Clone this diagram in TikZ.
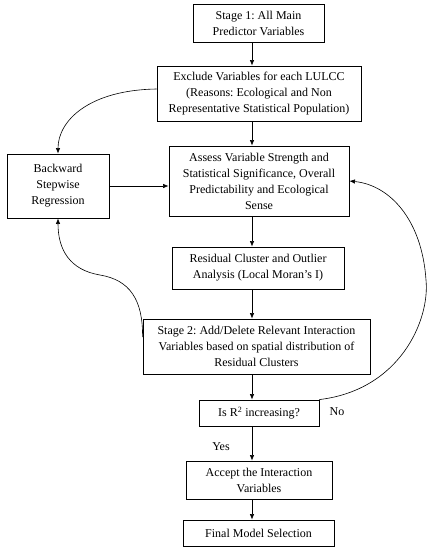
\documentclass[tikz,border=0pt]{standalone}
\usepackage{fontspec}
\setmainfont{Liberation Serif}
\usetikzlibrary{arrows.meta,calc}
\begin{document}
\frenchspacing
\begin{tikzpicture}[x=1pt,y=-1pt,
  box/.style={draw,line width=0.9pt,align=center,inner sep=0pt,font=\fontsize{12}{16}\selectfont},
  arr/.style={-{Latex[length=5.5pt,width=4.5pt]},line width=0.6pt},
  lbl/.style={font=\fontsize{12}{12}\selectfont,inner sep=0pt}]
\useasboundingbox (0,0) rectangle (430,550);
\node[box,minimum width=131pt,minimum height=38pt] (b1) at (258.5,23) {Stage 1: All Main\\Predictor Variables};
\node[box,minimum width=204pt,minimum height=55pt] (b2) at (259,93.5) {Exclude Variables for each LULCC\\(Reasons: Ecological and Non\\Representative Statistical Population)};
\node[box,minimum width=102pt,minimum height=64pt] (b3) at (58,186) {Backward\\Stepwise\\Regression};
\node[box,minimum width=180pt,minimum height=70pt] (b4) at (259,181) {Assess Variable Strength and\\Statistical Significance, Overall\\Predictability and Ecological\\Sense};
\node[box,minimum width=172pt,minimum height=42pt] (b5) at (258,268) {Residual Cluster and Outlier\\Analysis (Local Moran’s I)};
\node[box,minimum width=227pt,minimum height=55pt] (b6) at (256.5,346.5) {Stage 2: Add/Delete Relevant Interaction\\Variables based on spatial distribution of\\Residual Clusters};
\node[box,minimum width=120pt,minimum height=26pt] (b7) at (259,413) {Is R\textsuperscript{2} increasing?};
\node[box,minimum width=146pt,minimum height=38pt] (b8) at (259,480) {Accept the Interaction\\Variables};
\node[box,minimum width=151pt,minimum height=26pt] (b9) at (258.5,533) {Final Model Selection};
\coordinate (ax) at (252,0);
\draw[arr] (b1.south -| ax) -- (b2.north -| ax);
\draw[arr] (b2.south -| ax) -- (b4.north -| ax);
\draw[arr] (b4.south -| ax) -- (b5.north -| ax);
\draw[arr] (b5.south -| ax) -- (b6.north -| ax);
\draw[arr] (b6.south -| ax) -- (b7.north -| ax);
\draw[arr] (b7.south -| ax) -- (b8.north -| ax);
\draw[arr] (b8.south -| ax) -- (b9.north -| ax);
\draw[arr] (b3.east) -- (b3.east -| b4.west);
\draw[arr] ([yshift=4.5pt]b2.west) .. controls (90,90) and (58,120) .. (b3.north);
\draw[arr] ([yshift=9.5pt]b6.west) .. controls (143,300) and (130,280) .. (100,275) .. controls (70,270) and (58,250) .. (b3.south);
\draw[arr] (b7.north east) .. controls (400,390) and (430,320) .. (426,280) .. controls (422,220) and (390,185) .. (b4.east);
\node[lbl] (no) at (337,412) {No};
\node[lbl] (yes) at (221,447) {Yes};
\end{tikzpicture}
\end{document}
